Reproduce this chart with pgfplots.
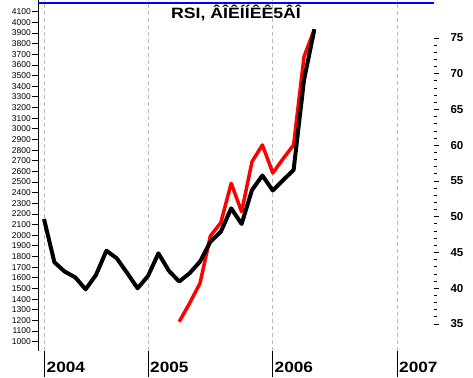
\documentclass[border=0pt]{standalone}
\usepackage{pgfplots}
\pgfplotsset{compat=1.18}
\usepackage{fontspec}
\setmainfont{Liberation Sans}
\pgfplotstableread{
k v
0 2153
1 1746
2 1658
3 1605
4 1492
5 1627
6 1855
7 1783
8 1645
9 1502
10 1617
11 1830
12 1667
13 1565
14 1643
15 1752
16 1939
17 2033
18 2253
19 2106
20 2425
21 2561
22 2420
23 2519
24 2613
25 3458
26 3935
}\blackdata
\pgfplotstableread{
k v
13 1188
14 1361
15 1549
16 1993
17 2118
18 2488
19 2221
20 2691
21 2848
22 2585
23 2720
24 2848
25 3677
26 3935
}\reddata
\begin{document}
\begin{tikzpicture}[x=1pt,y=1pt]
\begin{axis}[
  at={(38pt,26pt)}, anchor=south west,
  scale only axis, width=396pt, height=351pt,
  xmin=-0.577, xmax=37.5,
  ymin=912.6, ymax=4210,
  axis x line*=bottom, axis y line*=left,
  x axis line style={draw=none},
  y axis line style={black, line width=0.8pt, -},
  tick align=outside,
  xtick=\empty,
  minor xtick={1,...,9,11,12,...,21,23,24,...,33,35,36,37},
  minor tick length=7pt,
  minor x tick style={black, line width=0.8pt},
  extra x ticks={0,10,22,34},
  extra x tick labels={},
  extra x tick style={grid=major, major tick length=26pt, tick style={black, line width=0.9pt}},
  major grid style={gray!55, dash pattern=on 4pt off 3pt, line width=0.8pt},
  ytick={1000,1100,...,4100},
  major tick length=6pt,
  y tick style={black, line width=0.8pt},
  yticklabel style={font=\fontsize{8.5}{9}\selectfont, inner sep=1pt},
  /pgf/number format/.cd, 1000 sep={}, assume math mode=true,
]
\addplot[blue, line width=2pt, forget plot] coordinates {(-0.577,4185) (37.5,4185)};
\addplot[red, line width=3.5pt, line join=round] table[x=k, y=v] {\reddata};
\addplot[black, line width=4pt, line join=round] table[x=k, y=v] {\blackdata};
\end{axis}
\begin{axis}[
  at={(38pt,26pt)}, anchor=south west,
  scale only axis, width=396pt, height=351pt,
  xmin=-0.577, xmax=37.5,
  ymin=31.22, ymax=80.31,
  axis x line=none,
  axis y line*=right,
  y axis line style={draw=none},
  tick align=outside,
  ytick={35,40,...,75},
  minor y tick num=4,
  major tick length=5pt,
  minor tick length=3pt,
  y tick style={black, line width=0.8pt},
  yticklabel style={font=\bfseries\fontsize{11.5}{12}\selectfont, xshift=8pt},
  /pgf/number format/.cd, assume math mode=true,
]
\addplot[draw=none, forget plot] coordinates {(0,50)};
\end{axis}
\node[anchor=center, font=\bfseries\fontsize{15}{16}\selectfont] at (236pt,364.5pt) {\scalebox{1.18}[1]{RSI, ÂÎÊÍÍÊÊ5ÂÎ}};
\node[anchor=west, inner sep=0pt, font=\bfseries\fontsize{15}{16}\selectfont] at (46.5pt,10pt) {\scalebox{1.15}[1]{2004}};
\node[anchor=west, inner sep=0pt, font=\bfseries\fontsize{15}{16}\selectfont] at (150pt,10pt) {\scalebox{1.15}[1]{2005}};
\node[anchor=west, inner sep=0pt, font=\bfseries\fontsize{15}{16}\selectfont] at (274.5pt,10pt) {\scalebox{1.15}[1]{2006}};
\node[anchor=west, inner sep=0pt, font=\bfseries\fontsize{15}{16}\selectfont] at (399pt,10pt) {\scalebox{1.15}[1]{2007}};
\pgfresetboundingbox
\path[use as bounding box] (0,0) rectangle (473pt,377pt);
\end{tikzpicture}
\end{document}
